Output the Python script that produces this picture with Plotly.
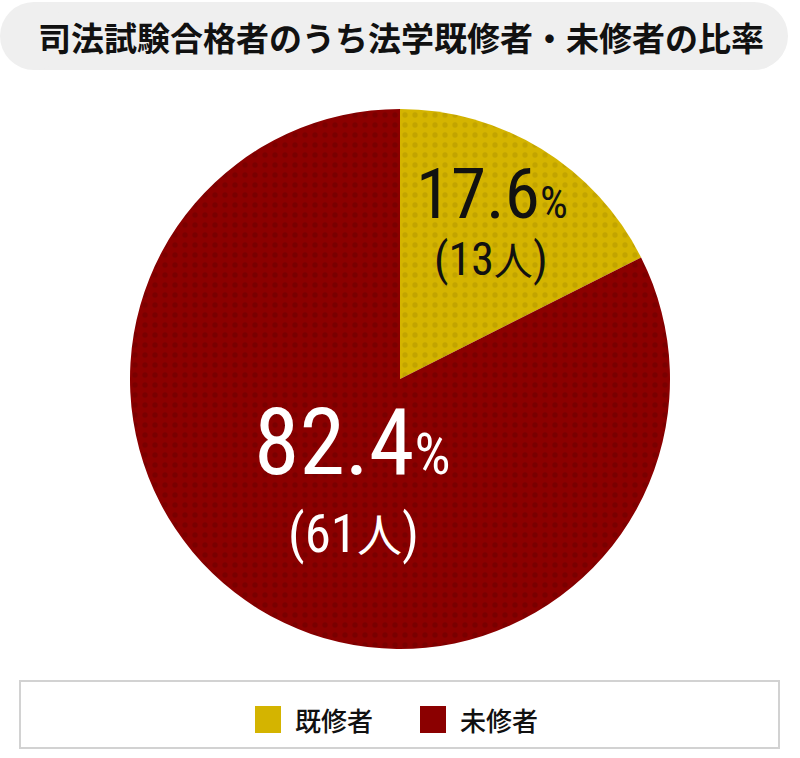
import plotly.graph_objects as go

title_text = "司法試験合格者のうち法学既修者・未修者の比率"
categories = ["既修者", "未修者"]
counts = [13, 61]
colors = ["#d4b400", "#8b0000"]
dot_colors = ["#c2a400", "#7a0000"]
label_colors = ["#111111", "#ffffff"]

W, H = 800, 758
total = sum(counts)
pcts = [c / total * 100 for c in counts]

fig = go.Figure()
fig.add_trace(go.Pie(
    labels=categories, values=counts, sort=False, direction="clockwise", rotation=0,
    marker=dict(colors=colors, line=dict(width=0),
                pattern=dict(shape=".", fgcolor=dot_colors, bgcolor=colors,
                             size=10, solidity=0.22)),
    textinfo="none", hoverinfo="label+value+percent", showlegend=False,
    domain=dict(x=[130 / W, 670 / W], y=[1 - 650 / H, 1 - 108 / H]),
))

def px(x, y):
    return dict(x=x / W, y=1 - y / H, xref="paper", yref="paper",
                xanchor="center", yanchor="middle", showarrow=False)

# title pill
r = 34
x0, x1, y0, y1 = 0, 788, 2, 70
pill = dict(xref="paper", yref="paper", fillcolor="#efefef", line=dict(width=0), layer="below")
fig.add_shape(type="rect", x0=(x0 + r) / W, x1=(x1 - r) / W, y0=1 - y1 / H, y1=1 - y0 / H, **pill)
fig.add_shape(type="circle", x0=x0 / W, x1=(x0 + 2 * r) / W, y0=1 - y1 / H, y1=1 - y0 / H, **pill)
fig.add_shape(type="circle", x0=(x1 - 2 * r) / W, x1=x1 / W, y0=1 - y1 / H, y1=1 - y0 / H, **pill)
fig.add_annotation(**px(401, 37), text=title_text,
                   font=dict(family="Noto Sans CJK JP", size=33, color="#111111", weight=700))

num_font = "Roboto Condensed, Liberation Sans Narrow, Roboto"
# slice labels: (pct x, pct y, count x, count y, pct size, count size)
label_pos = [(492, 193, 491, 258, 71, 46), (352, 442, 353, 532, 92, 53)]
for i, (pxx, pyy, cx, cy, fs, fs2) in enumerate(label_pos):
    fig.add_annotation(**px(pxx, pyy),
                       text="%.1f<span style='font-size:%dpx'>%%</span>" % (pcts[i], int(fs * 0.62)),
                       font=dict(family=num_font, size=fs, color=label_colors[i]))
    fig.add_annotation(**px(cx, cy),
                       text="(%d<span style='font-family:Noto Sans CJK JP;font-size:%dpx'>人</span>)" % (counts[i], int(fs2 * 0.85)),
                       font=dict(family=num_font, size=fs2, color=label_colors[i]))

# legend box
fig.add_shape(type="rect", x0=20 / W, x1=779 / W, y0=1 - 748 / H, y1=1 - 681 / H,
              xref="paper", yref="paper", line=dict(color="#d2d2d2", width=2), fillcolor="white")
leg_x = [255, 420]
for i, cat in enumerate(categories):
    fig.add_shape(type="rect", x0=leg_x[i] / W, x1=(leg_x[i] + 26) / W,
                  y0=1 - 733 / H, y1=1 - 706 / H, xref="paper", yref="paper",
                  fillcolor=colors[i], line=dict(width=0))
    a = px(leg_x[i] + 38, 719)
    a["xanchor"] = "left"
    fig.add_annotation(**a, text=cat,
                       font=dict(family="Noto Sans CJK JP", size=26, color="#111111", weight=500))

fig.update_layout(width=W, height=H, margin=dict(l=0, r=0, t=0, b=0),
                  paper_bgcolor="white", plot_bgcolor="white")
fig.write_html("out.html", config={"displayModeBar": False},
               post_script="document.body.style.margin='0';")
